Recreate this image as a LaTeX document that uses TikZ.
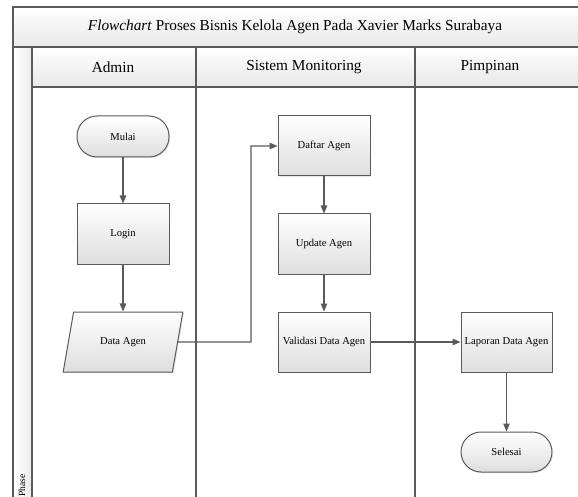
\documentclass[tikz,border=0pt]{standalone}
\usepackage{fontspec}
\setmainfont{Liberation Serif}
\usetikzlibrary{shapes.geometric,arrows.meta,shadows}

\definecolor{edge}{HTML}{5A5A5A}
\definecolor{shade}{HTML}{DEDEDE}

\tikzset{
  x=1pt, y=-1pt,
  frameline/.style={draw=edge, line width=1.2pt},
  band/.style={frameline, top color=white, bottom color=shade!70},
  lanetitle/.style={font=\fontsize{15.3}{18}\selectfont},
  boxbase/.style={draw=edge, line width=1pt, top color=white, bottom color=shade,
    font=\fontsize{10.6}{12}\selectfont, inner sep=1pt,
    drop shadow={opacity=0.18, shadow xshift=1.2pt, shadow yshift=-1.2pt}},
  procbox/.style={boxbase, rectangle, minimum width=92pt, minimum height=60pt},
  termbox/.style={boxbase, rounded corners=20pt, minimum width=92pt, minimum height=41pt},
  iobox/.style={boxbase, trapezium, trapezium left angle=66, trapezium right angle=114,
    trapezium stretches=true, minimum width=120pt, minimum height=60pt},
  flow/.style={draw=edge, line width=1.2pt, -{Triangle[length=8pt,width=6.5pt]}},
}

\begin{document}
\begin{tikzpicture}
  \useasboundingbox (0,0) rectangle (578,497);
  \clip (0,0) rectangle (578,497);
  \fill[white] (0,0) rectangle (578,497);

  % title band
  \path[band] (13,7) rectangle (582,47);
  \node[lanetitle] (title) at (295,27) {\textit{Flowchart} Proses Bisnis Kelola Agen Pada Xavier Marks Surabaya};

  % phase column
  \path[frameline, left color=white, right color=shade!60] (13,47) rectangle (32,502);
  \node[rotate=90, font=\fontsize{9.5}{11}\selectfont, anchor=west, inner sep=0pt] (phase) at (22,497) {Phase};

  % lane headers
  \path[band] (32,47) rectangle (196,87);
  \path[band] (196,47) rectangle (415,87);
  \path[band] (415,47) rectangle (582,87);
  \node[lanetitle] (hadmin) at (113,67) {Admin};
  \node[lanetitle] (hsistem) at (304,67) {Sistem Monitoring};
  \node[lanetitle] (hpimpinan) at (490,67) {Pimpinan};

  % lane bodies
  \path[frameline] (32,87) rectangle (196,502);
  \path[frameline] (196,87) rectangle (415,502);
  \path[frameline] (415,87) rectangle (582,502);

  % Admin lane
  \node[termbox] (mulai) at (123,136.5) {Mulai};
  \node[procbox] (login) at (123,234) {Login};
  \node[iobox] (data) at (123,342) {Data Agen};

  % Sistem Monitoring lane
  \node[procbox] (daftar) at (324,146) {Daftar Agen};
  \node[procbox] (update) at (324,244) {Update Agen};
  \node[procbox] (validasi) at (324,342) {Validasi Data Agen};

  % Pimpinan lane
  \node[procbox, minimum width=91pt] (laporan) at (506.5,342) {Laporan Data Agen};
  \node[termbox, minimum width=91pt, minimum height=40pt] (selesai) at (506.5,452) {Selesai};

  % connectors
  \draw[flow] (mulai) -- (login);
  \draw[flow] (login) -- (data);
  \draw[flow] (data.east) -- (251,342) |- (daftar.west);
  \draw[flow] (daftar) -- (update);
  \draw[flow] (update) -- (validasi);
  \draw[flow] (validasi) -- (laporan);
  \draw[flow] (laporan) -- (selesai);
\end{tikzpicture}
\end{document}
